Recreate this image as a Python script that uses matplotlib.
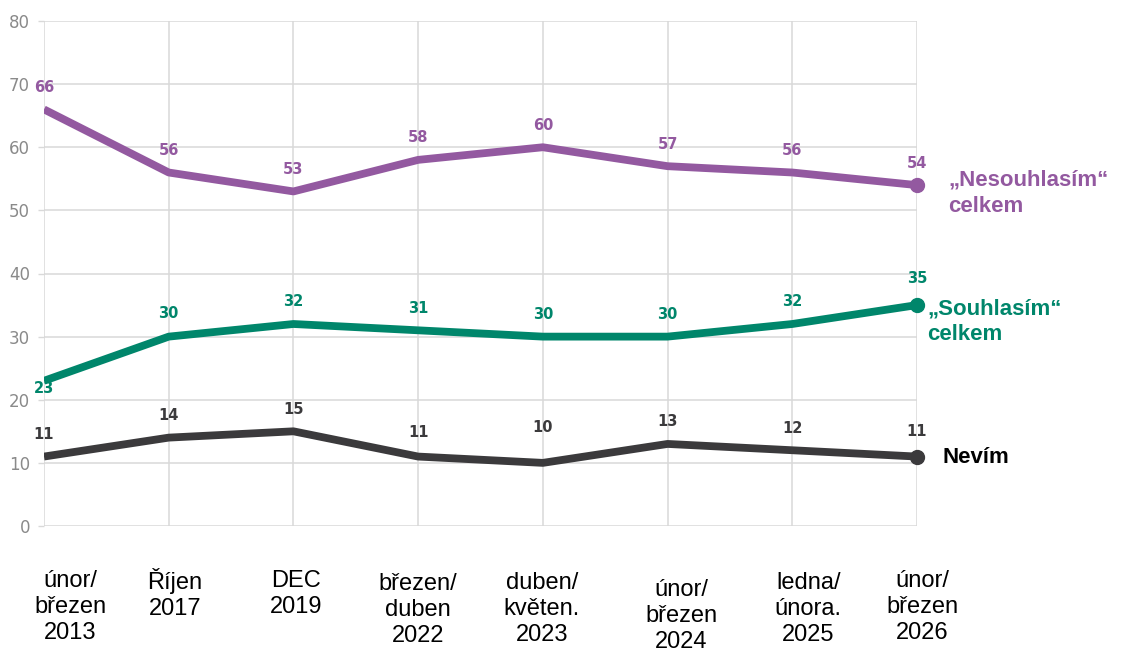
import matplotlib
matplotlib.use("Agg")
import matplotlib.pyplot as plt

# Survey waves
periods = [
    "únor/\nbřezen\n2013",
    "Říjen\n2017",
    "DEC\n2019",
    "březen/\nduben\n2022",
    "duben/\nkvěten.\n2023",
    "únor/\nbřezen\n2024",
    "ledna/\núnora.\n2025",
    "únor/\nbřezen\n2026",
]

# Shares of respondents (%)
nesouhlasim = [66, 56, 53, 58, 60, 57, 56, 54]
souhlasim = [23, 30, 32, 31, 30, 30, 32, 35]
nevim = [11, 14, 15, 11, 10, 13, 12, 11]

series_names = ["„Nesouhlasím“\ncelkem", "„Souhlasím“\ncelkem", "Nevím"]

y_ticks = [0, 10, 20, 30, 40, 50, 60, 70, 80]

# Styling
PURPLE = "#9359A0"
TEAL = "#00866B"
DARK = "#3B3A3C"
GRID = "#D9D9D9"

W, H = 1123, 648
fig = plt.figure(figsize=(W / 100, H / 100), dpi=100)
ax = fig.add_axes([44 / W, 122 / H, (917 - 44) / W, (526 - 21) / H])

x = list(range(len(periods)))
ax.set_xlim(0, len(periods) - 1)
ax.set_ylim(0, 80)

for s in ax.spines.values():
    s.set_visible(False)

ax.set_yticks(y_ticks)
ax.set_yticklabels([str(v) for v in y_ticks], fontsize=12, color="#8A8A8A",
                   family="DejaVu Sans")
ax.tick_params(axis="y", length=4, width=1, color=GRID, pad=6)
ax.set_xticks(x)
ax.set_xticklabels([])
ax.tick_params(axis="x", length=0)
ax.grid(True, color=GRID, linewidth=1.1)
ax.set_axisbelow(True)

# Per-point vertical offsets (pixels) of value labels
label_offsets = {
    "nes": [22] * 8,
    "sou": [-8, 23, 22, 22, 22, 22, 22, 27],
    "nev": [22, 22, 22, 24, 35, 22, 22, 25],
}

series = [
    (nesouhlasim, PURPLE, "nes", series_names[0], (31, -8), PURPLE),
    (souhlasim, TEAL, "sou", series_names[1], (10, -17), TEAL),
    (nevim, DARK, "nev", series_names[2], (26, -1), "#000000"),
]

for vals, col, key, name, (ndx, ndy), ncol in series:
    ax.plot(x, vals, color=col, linewidth=5.6, solid_capstyle="butt",
            solid_joinstyle="round", zorder=3)
    ax.plot([x[-1]], [vals[-1]], "o", color=col, markersize=10, zorder=4,
            clip_on=False)
    for xi, v, off in zip(x, vals, label_offsets[key]):
        ax.annotate(str(v), xy=(xi, v), xytext=(0, off), textcoords="offset pixels",
                    ha="center", va="center", fontsize=10.5, fontweight="bold",
                    color=col, family="DejaVu Sans", annotation_clip=False)
    ax.annotate(name, xy=(x[-1], vals[-1]), xytext=(ndx, ndy),
                textcoords="offset pixels", ha="left", va="center",
                fontsize=16, fontweight="bold", color=ncol,
                family="Liberation Sans", linespacing=1.3,
                annotation_clip=False)

# Category labels under the axis
label_dx = [26, 6, 3, 0, -1, 14, 16, 5]
label_dy = [-81, -68, -68, -84, -83, -90, -83, -81]
for xi, lab, dx, dy in zip(x, periods, label_dx, label_dy):
    ax.annotate(lab, xy=(xi, 0), xycoords=("data", "axes fraction"),
                xytext=(dx, dy), textcoords="offset pixels",
                ha="center", va="center", multialignment="center",
                fontsize=17, color="#000000", family="Liberation Sans",
                linespacing=1.22, annotation_clip=False)

fig.savefig("out.png", dpi=100, facecolor="white")
